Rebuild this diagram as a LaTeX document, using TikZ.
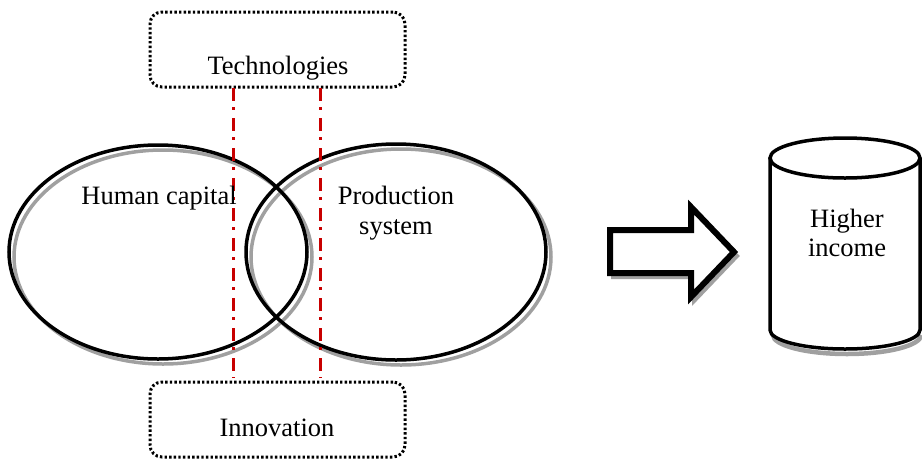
\documentclass[tikz,border=0pt]{standalone}
\usepackage{fontspec}
\setmainfont{Liberation Serif}
\usetikzlibrary{shapes.geometric}
\definecolor{dred}{RGB}{200,0,0}
\definecolor{shgray}{RGB}{160,160,160}
\tikzset{
  dotbox/.style={draw, line width=3pt, dash pattern=on 2.4pt off 2.2pt, line cap=butt, rounded corners=12pt, minimum width=255pt, minimum height=75pt, inner sep=0pt},
  lbl/.style={font=\fontsize{26.5}{30}\selectfont, inner sep=0pt, anchor=base},
  ring/.style={ellipse, draw, line width=3.5pt, inner sep=0pt},
  ringshadow/.style={ellipse, draw=shgray, line width=3.5pt, inner sep=0pt},
  redline/.style={draw=dred, line width=3pt, dash pattern=on 13pt off 6pt on 3pt off 8pt},
  thick3/.style={line width=3.5pt},
}
\begin{document}
\begin{tikzpicture}[x=1pt,y=1pt]
\useasboundingbox (0,0) rectangle (922,-459);
% shadows of ellipses
\node[ringshadow, minimum width=298pt, minimum height=214pt] (hcs) at (163,-257) {};
\node[ringshadow, minimum width=300pt, minimum height=216pt] (pss) at (401,-257) {};
% ellipses
\node[ring, minimum width=298pt, minimum height=214pt] (hc) at (158,-252) {};
\node[ring, minimum width=300pt, minimum height=216pt] (ps) at (396,-252) {};
% boxes
\node[dotbox] (tech) at (277.5,-49.5) {};
\node[dotbox] (inno) at (277.5,-419.5) {};
\node[lbl] (techt) at (278,-74) {Technologies};
\node[lbl] (innot) at (277,-436) {Innovation};
% red lines
\coordinate (r1a) at (233,-88); \coordinate (r1b) at (233,-378);
\coordinate (r2a) at (320,-88); \coordinate (r2b) at (320,-378);
\draw[redline] (r1a) -- (r1b);
\draw[redline] (r2a) -- (r2b);
% labels in ellipses
\node[lbl] (hct) at (159,-204) {Human capital};
\node[lbl] (pst1) at (396,-204) {Production};
\node[lbl] (pst2) at (396,-234) {system};
% block arrow
\draw[draw=shgray, line width=4pt, line join=miter] (613,-234) -- (694,-234) -- (694,-211) -- (737,-256) -- (694,-301) -- (694,-277) -- (613,-277) -- cycle;
\draw[line width=6pt, line join=miter, fill=white] (610,-230) -- (691,-230) -- (691,-207) -- (734,-252) -- (691,-297) -- (691,-273) -- (610,-273) -- cycle;
% cylinder
\draw[draw=shgray, line width=4.5pt] (773,-335) arc[start angle=180, end angle=360, x radius=74, y radius=19];
\draw[thick3, fill=white] (770,-158) -- (770,-330) arc[start angle=180, end angle=360, x radius=75, y radius=19] -- (920,-158);
\draw[thick3, fill=white] (845,-158) ellipse[x radius=75, y radius=20];
\node[lbl] (hit1) at (847,-227) {Higher};
\node[lbl] (hit2) at (847,-256) {income};
\end{tikzpicture}
\end{document}
